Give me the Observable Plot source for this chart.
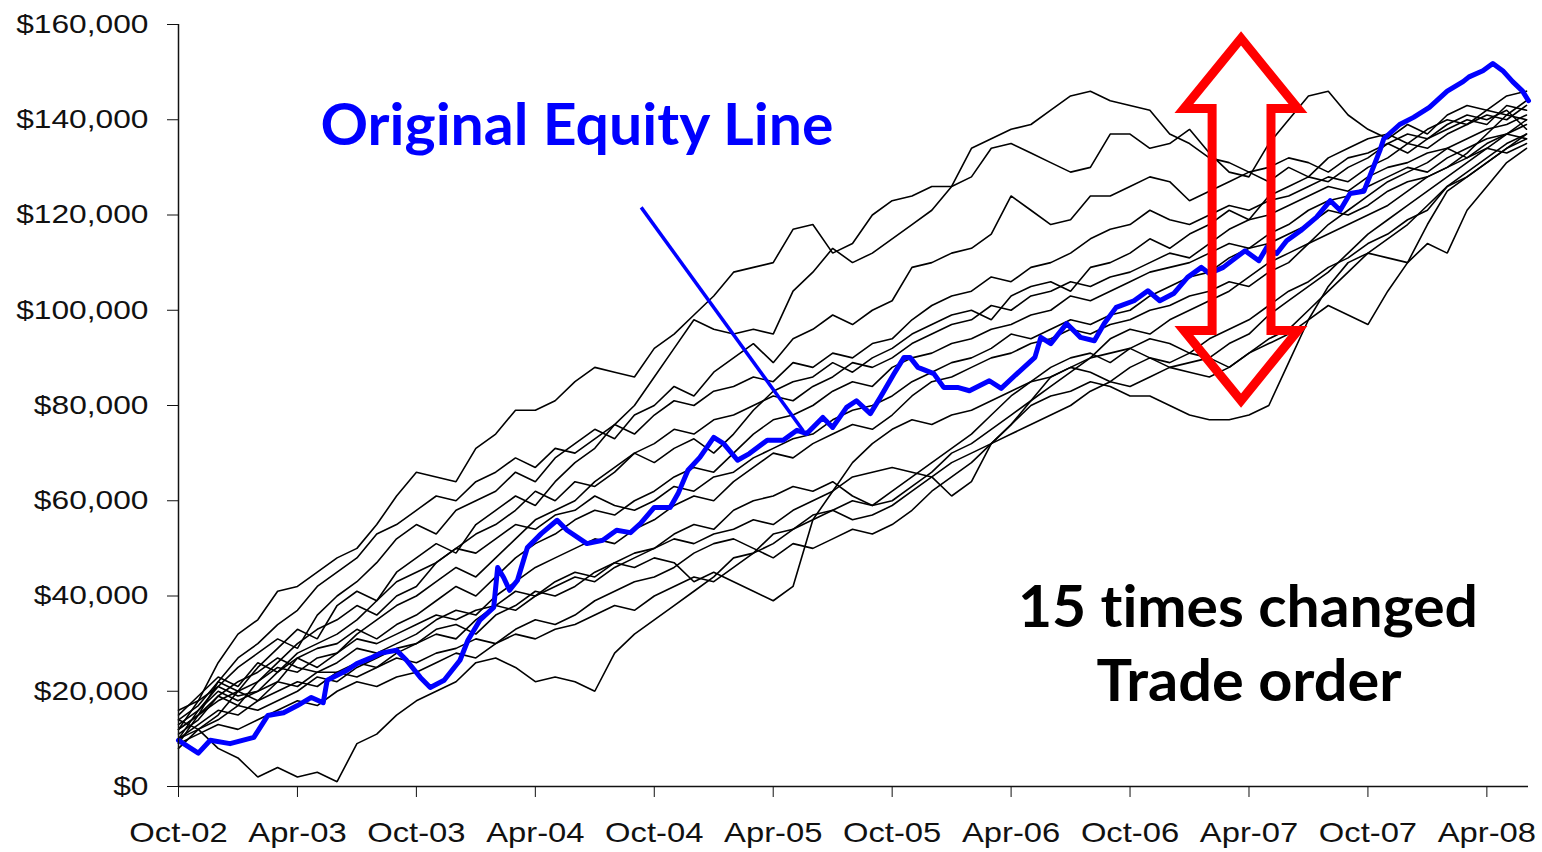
<!DOCTYPE html>
<html>
<head>
<meta charset="utf-8">
<script src="https://cdn.jsdelivr.net/npm/d3@7"></script>
<script src="https://cdn.jsdelivr.net/npm/@observablehq/plot@0.6"></script>
<style>
  html, body { margin: 0; padding: 0; background: #fff; }
  text { font-variant-ligatures: none; font-feature-settings: "liga" 0; }
</style>
</head>
<body>
<div id="chart"></div>
<script>
// ---- axis ticks (x = months since Oct-02, y = equity in $ thousands) ----
const tickMonths = [0, 6, 12, 18, 24, 30, 36, 42, 48, 54, 60, 66];
const tickLabels = ["Oct-02", "Apr-03", "Oct-03", "Apr-04", "Oct-04", "Apr-05",
                    "Oct-05", "Apr-06", "Oct-06", "Apr-07", "Oct-07", "Apr-08"];
const yTicks = [0, 20, 40, 60, 80, 100, 120, 140, 160];

// ---- month grid for the 15 reshuffled trade-order equity lines ----
const months = [0,1,2,3,4,5,6,7,8,9,10,11,12,13,14,15,16,17,18,19,20,21,22,23,24,25,26,27,28,29,
  30,31,32,33,34,35,36,37,38,39,40,41,42,43,44,45,46,47,48,49,50,51,52,53,54,55,56,57,58,59,
  60,61,62,63,64,65,66,67,68];

// equity in $k, one value per month
const trial01 = [12,18,26,32,35,41,42,45,48,50,55,61,66,65,64,71,74,79,79,81,85,88,87,86,92,95,99,103,108,109,110,117,118,112,114,120,123,124,126,126,134,136,138,139,142,145,146,144,143,142,137,135,132,131,129,127,130,128,132,134,136,137,135,138,140,139,142,141,140];
const trial02 = [10,16,21,25,28,31,29,36,40,43,47,52,55,53,58,60,62,66,64,69,72,75,73,78,80,84,82,87,90,93,89,94,96,99,97,100,102,109,110,112,113,116,124,121,118,119,124,124,126,128,127,123,125,127,129,130,132,131,129,132,133,135,137,136,139,141,140,142,138];
const trial03 = [14,17,22,20,25,29,33,31,38,41,39,45,48,51,49,55,58,61,59,64,68,71,76,80,86,92,98,96,95,96,95,104,108,113,110,112,115,118,121,126,128,134,135,133,131,129,130,137,137,134,135,138,133,129,128,135,140,145,146,141,138,136,139,137,141,143,142,145,146];
const trial04 = [9,15,22,27,30,34,37,42,45,48,53,55,58,61,60,64,66,69,67,71,70,73,76,74,78,81,80,83,84,86,85,89,88,91,90,93,94,98,101,103,104,107,106,109,110,112,115,117,118,121,119,118,120,122,121,123,124,126,128,127,130,132,135,134,137,139,141,140,143];
const trial05 = [11,14,19,17,22,26,30,33,35,38,36,40,42,47,50,53,55,58,62,60,64,63,66,70,68,71,73,70,74,79,83,85,86,89,87,90,92,95,97,99,100,98,103,105,106,104,109,110,112,115,113,116,118,121,119,124,126,128,127,130,132,135,133,136,138,140,139,143,142];
const trial06 = [13,16,20,18,20,24,27,25,28,32,35,38,40,43,46,44,48,52,56,58,60,64,67,70,72,75,74,77,78,80,82,81,84,86,89,88,90,93,95,97,98,101,100,103,104,106,105,107,108,110,112,111,114,117,119,120,122,124,126,125,128,130,131,133,134,132,135,137,136];
const trial07 = [8,12,15,20,18,22,27,29,30,33,31,34,36,39,42,40,44,48,51,53,56,58,57,60,62,65,67,66,70,74,77,78,80,83,85,84,88,90,91,93,94,96,97,99,100,103,102,104,106,108,109,110,112,114,113,116,118,121,123,124,126,128,130,129,132,134,136,137,139];
const trial08 = [15,19,23,21,26,24,28,30,32,35,39,43,45,47,50,49,52,55,54,57,58,61,59,58,60,63,62,65,66,69,71,73,74,77,79,80,82,85,87,89,90,92,95,94,96,98,97,99,100,103,105,107,108,111,113,114,116,118,121,120,122,125,127,128,130,133,137,141,144];
const trial09 = [12,15,19,22,24,27,25,24,26,29,28,30,32,35,37,36,40,43,46,48,50,52,51,54,56,59,61,60,64,67,70,69,72,74,76,75,78,82,85,86,88,90,91,93,94,96,95,97,98,100,101,103,104,106,105,108,110,114,118,121,124,127,129,131,134,136,138,139,141];
const trial10 = [10,12,14,17,16,18,20,23,22,25,27,29,30,33,34,32,36,38,41,40,42,45,47,49,50,53,55,54,58,60,61,63,62,64,61,59,60,63,66,70,72,75,78,81,84,87,90,94,96,95,98,100,102,104,107,110,112,114,116,118,120,122,125,128,130,132,134,133,135];
const trial11 = [16,18,21,19,20,22,21,24,24,23,25,27,26,28,29,31,30,33,35,34,36,39,41,43,44,46,49,51,52,50,48,51,50,52,54,53,55,58,62,65,68,72,76,81,86,88,90,91,92,94,93,91,90,88,91,94,96,100,104,108,112,115,118,122,126,129,132,135,137];
const trial12 = [9,11,13,12,14,16,18,17,20,22,21,23,24,26,28,27,30,32,31,33,34,36,38,37,40,42,44,43,46,49,51,54,56,58,60,59,62,65,68,71,74,78,82,85,88,90,91,89,92,90,88,87,86,88,91,93,95,98,101,99,97,104,110,118,125,128,131,134,137];
const trial13 = [10,13,16,15,18,20,22,21,24,26,25,28,30,32,31,35,38,37,40,42,44,43,46,48,50,52,51,53,54,56,55,58,60,62,65,66,67,66,65,61,64,72,76,80,82,83,85,84,82,82,80,78,77,77,78,80,89,98,105,110,112,111,110,114,112,121,126,131,134];
const trial14 = [12,15,18,20,22,25,24,27,28,31,30,32,34,36,35,37,38,41,40,43,45,44,47,46,48,47,43,45,43,41,39,42,56,62,68,72,75,77,76,78,79,81,83,85,86,88,87,85,84,86,88,89,90,93,95,99,102,105,108,112,116,119,122,125,128,131,134,137,140];
const trial15 = [14,12,8,6,2,4,2,3,1,9,11,15,18,20,22,26,27,25,22,23,22,20,28,32,35,38,41,44,48,49,53,54,57,58,56,57,59,62,65,68,70,72,74,76,78,80,83,85,88,90,89,91,94,96,98,101,104,106,109,111,114,116,119,121,126,128,131,134,136];

// ---- original equity line (blue), $k ----
const blueMonths = [0,1.0,1.6,2.6,3.8,4.5,5.3,6,6.7,7.3,7.5,8.5,9,9.7,10.2,11,11.5,12.2,12.7,13.4,14.2,14.6,15.2,15.9,16.1,16.4,16.7,17.1,17.6,18.3,19.1,19.6,20.6,21.4,22.1,22.8,23.3,24,24.8,25.2,25.7,26.3,27,27.5,28.2,28.8,29.7,30.5,31.2,31.7,32.5,33,33.7,34.2,34.9,35.4,36.1,36.6,36.9,37.3,38.1,38.6,39.3,39.9,40.9,41.5,42.3,43.2,43.5,44,44.8,45.5,46.2,46.7,47.3,48.2,48.9,49.5,50.2,50.9,51.6,52,52.7,53.8,54.5,54.9,55.4,55.9,56.6,57.4,58.1,58.6,59.1,59.8,60.6,60.8,61.6,62.3,63.1,64,64.8,65.1,65.8,66.3,66.8,67.3,67.8,68.1];
const blueValues = [9.7,7,9.7,9,10.3,14.9,15.5,17,18.7,17.6,22.3,24.4,25.8,27,28,28.6,26.5,22.9,20.8,22.3,26.5,30.7,34.9,37.6,46,43.9,41.2,43.3,50.2,53.1,55.9,53.8,51,51.7,53.8,53.3,55.2,58.6,58.6,61.5,66.4,69.1,73.3,72,68.5,69.9,72.7,72.7,74.8,74.1,77.5,75.4,79.6,81,78.3,81.7,86.7,90.1,90.1,88,86.7,83.8,83.8,83.1,85.2,83.6,86.7,90.1,94.3,93,97.2,94.3,93.6,97.2,100.6,102,104.1,102,103.5,106.9,109,107.7,109,112.5,110.4,113.2,111.9,114.6,116.7,119.5,123,121,124.5,125,133.5,136,139,140.5,142.6,146,148,149,150.3,151.8,150.3,148,146,144];

// ---- annotations (data units) ----
const pointer = [{m1: 23.34, v1: 121.6, m2: 31.51, v2: 74.7}];
const arrowMonths = [52.14, 52.14, 50.72, 53.60, 56.47, 55.11, 55.11, 56.47, 53.60, 50.72, 52.14, 52.14];
const arrowValues = [118.85, 142.36, 142.36, 157.06, 142.36, 142.36, 95.75, 95.75, 81.05, 95.75, 95.75, 118.85];
const blueNote = [{m: 7.16, v: 134.8, text: "Original Equity Line"}];
const blackNote = [{m: 53.95, v: 33.4, text: "15 times changed"}, {m: 54.0, v: 17.85, text: "Trade order"}];
const noteWidths = {"Original Equity Line": 513, "15 times changed": 460, "Trade order": 305};

// ---- build tables ----
const trials = [trial01, trial02, trial03, trial04, trial05, trial06, trial07, trial08,
                trial09, trial10, trial11, trial12, trial13, trial14, trial15];
const blackData = trials.flatMap((vals, i) => vals.map((v, j) => ({trial: i, month: months[j], equity: v})));
const blueData = blueMonths.map((m, i) => ({month: m, equity: blueValues[i]}));
const arrowData = arrowMonths.map((m, i) => ({month: m, equity: arrowValues[i]}));

const fmt = d3.format(",");
const chart = Plot.plot({
  width: 1542,
  height: 852,
  marginLeft: 178,
  marginRight: 14,
  marginTop: 24,
  marginBottom: 66,
  style: {fontFamily: "'Liberation Sans', Arial, sans-serif", fontSize: "28px", color: "#111", background: "#fff", overflow: "visible"},
  x: {domain: [0, 68.1], ticks: tickMonths, tickFormat: d => tickLabels[tickMonths.indexOf(d)], tickSize: 11, tickPadding: 25, label: null},
  y: {domain: [0, 160], ticks: yTicks, tickFormat: d => "$" + fmt(d * 1000), tickSize: 11, tickPadding: 19, label: null},
  marks: [
    Plot.line(blackData, {x: "month", y: "equity", z: "trial", stroke: "#000", strokeWidth: 1.6, strokeLinejoin: "miter"}),
    Plot.line(blueData, {x: "month", y: "equity", stroke: "#0000ff", strokeWidth: 5, strokeLinejoin: "round"}),
    Plot.ruleX([0], {stroke: "#111", strokeWidth: 1.5}),
    Plot.ruleY([0], {stroke: "#111", strokeWidth: 1.5}),
    Plot.link(pointer, {x1: "m1", y1: "v1", x2: "m2", y2: "v2", stroke: "#0000ff", strokeWidth: 3.5}),
    Plot.line(arrowData, {x: "month", y: "equity", stroke: "#ff0000", strokeWidth: 9, strokeLinejoin: "miter", strokeMiterlimit: 10}),
    Plot.text(blueNote, {x: "m", y: "v", text: "text", fill: "#0000ff", textAnchor: "start", lineAnchor: "bottom",
      fontSize: 57, fontWeight: "bold", fontFamily: "Lato, 'Open Sans', sans-serif"}),
    Plot.text(blackNote, {x: "m", y: "v", text: "text", fill: "#000", textAnchor: "middle", lineAnchor: "bottom",
      fontSize: 57, fontWeight: "bold", fontFamily: "Lato, 'Open Sans', sans-serif"})
  ]
});
document.getElementById("chart").appendChild(chart);

// axis label sizes (the reference is horizontally stretched)
function stretch(el, factor, target) {
  const w = el.getComputedTextLength();
  if (w > 0) {
    el.setAttribute("textLength", target ? target : w * factor);
    el.setAttribute("lengthAdjust", "spacingAndGlyphs");
  }
}
chart.querySelectorAll('[aria-label^="y-axis"] text').forEach(t => {
  t.style.fontSize = "26px";
  stretch(t, 1.22);
});
chart.querySelectorAll('[aria-label^="x-axis"] text').forEach(t => {
  t.style.fontSize = "28px";
  stretch(t, 1.17);
});
chart.querySelectorAll("text").forEach(t => {
  const key = t.textContent.trim();
  if (noteWidths[key]) stretch(t, 1, noteWidths[key]);
});
</script>
</body>
</html>
